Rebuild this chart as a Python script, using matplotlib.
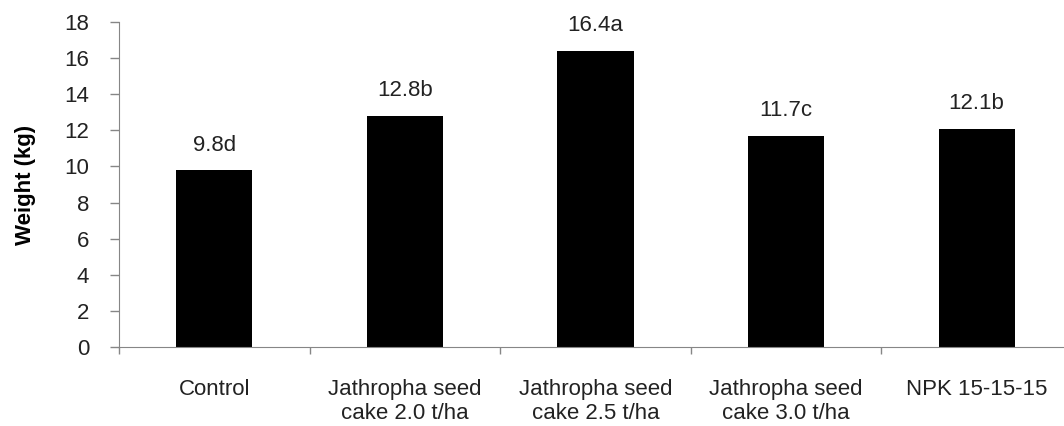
import matplotlib.pyplot as plt
import numpy as np

plt.rcParams['font.family'] = ['Liberation Sans', 'DejaVu Sans']

# tratamientos y peso medio
tratamientos = ['Control', 'Jathropha seed\ncake 2.0 t/ha', 'Jathropha seed\ncake 2.5 t/ha',
                'Jathropha seed\ncake 3.0 t/ha', 'NPK 15-15-15']
peso = [9.8, 12.8, 16.4, 11.7, 12.1]
letras = ['d', 'b', 'a', 'c', 'b']

fig = plt.figure(figsize=(10.64, 4.26), dpi=100)
ax = fig.add_axes([0.1118, 0.1854, 0.8957, 0.763])

x = np.arange(len(tratamientos))
barras = ax.bar(x, peso, width=0.4, color='black')

# valores encima de cada barra
for xi, v, l in zip(x, peso, letras):
    ax.annotate(f'{v}{l}', (xi, v), xytext=(0, 14), textcoords='offset points',
                ha='center', va='baseline', fontsize=16, color='#222222')

ax.set_xlim(-0.5, len(tratamientos) - 0.5)
ax.set_ylim(0, 18)
ax.set_yticks(range(0, 19, 2))
ax.set_xticks(x)
ax.set_xticklabels(tratamientos, fontsize=16, color='#222222', linespacing=1.2)
ax.set_xticks(np.arange(-0.5, len(tratamientos), 1), minor=True)
ax.tick_params(axis='x', which='major', length=0, pad=23)
ax.tick_params(axis='x', which='minor', length=5, color='#868686', width=1)
ax.tick_params(axis='y', length=6.5, color='#868686', width=1, labelsize=16,
               labelcolor='#222222', pad=15)
ax.set_ylabel('Weight (kg)', fontsize=16, fontweight='bold', labelpad=20)

for s in ['top', 'right']:
    ax.spines[s].set_visible(False)
for s in ['left', 'bottom']:
    ax.spines[s].set_color('#868686')

fig.savefig('out.png', dpi=100)
